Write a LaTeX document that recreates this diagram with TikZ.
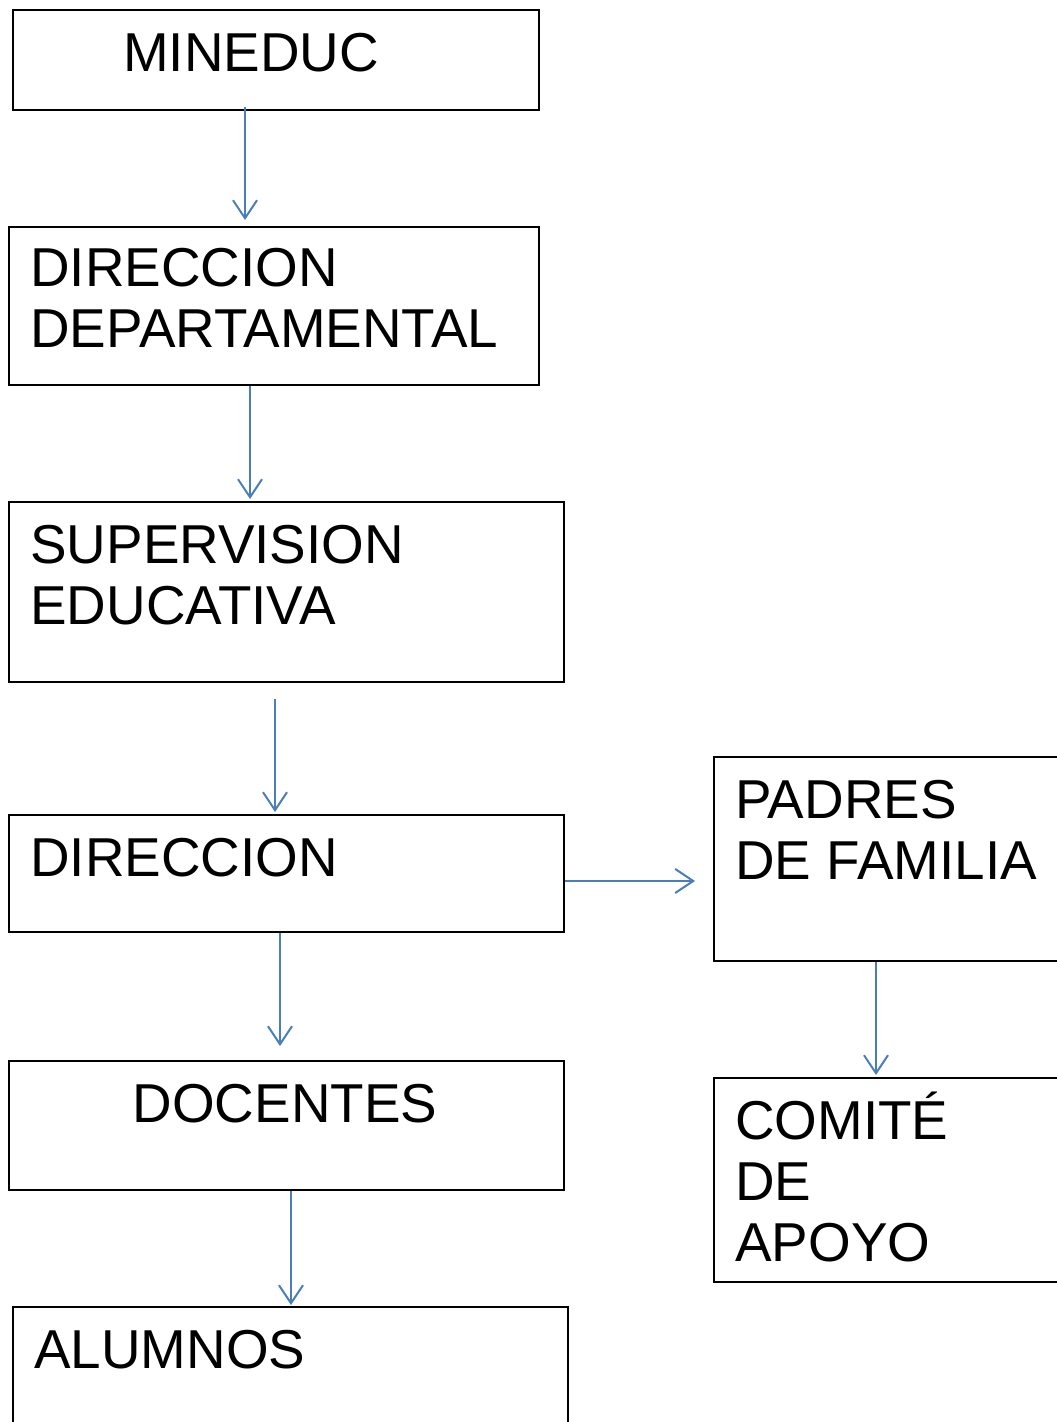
\documentclass[tikz,border=0pt]{standalone}
\usepackage{fontspec}
\setmainfont{Liberation Sans}
\usetikzlibrary{arrows.meta,positioning}

\definecolor{azul}{HTML}{4A7EBB}

\tikzset{
  caja/.style = {draw, line width=1pt, anchor=north west, inner sep=0pt},
  texto/.style = {inner sep=0pt, align=left, font=\fontsize{27.4}{30.5}\selectfont},
  flecha/.style = {draw=azul, line width=1pt, -{Straight Barb[length=9pt,width=12pt,line width=1pt]}}
}

\begin{document}
\begin{tikzpicture}[x=0.5pt, y=-0.5pt]
\useasboundingbox (0,0) rectangle (1056,1422);
% cajas
\node[caja, minimum width=263pt, minimum height=50pt]   (mineduc) at (12,9) {};
\node[caja, minimum width=265pt, minimum height=79pt]   (dirdep)  at (8,226) {};
\node[caja, minimum width=277.5pt, minimum height=90pt] (superv)  at (8,501) {};
\node[caja, minimum width=277.5pt, minimum height=58.5pt] (direc) at (8,814) {};
\node[caja, minimum width=277.5pt, minimum height=64.5pt] (docent) at (8,1060) {};
\node[caja, minimum width=277.5pt, minimum height=70pt] (alumn)   at (12,1306) {};
\node[caja, minimum width=180pt, minimum height=102pt]  (padres)  at (713,756) {};
\node[caja, minimum width=180pt, minimum height=102pt]  (comite)  at (713,1077) {};
% textos (base = ultima linea)
\node[texto, anchor=base]      (tmineduc) at (251,72)   {MINEDUC};
\node[texto, anchor=base west] (tdirdep)  at (30,348)   {DIRECCION\\DEPARTAMENTAL};
\node[texto, anchor=base west] (tsuperv)  at (30,624)   {SUPERVISION\\EDUCATIVA};
\node[texto, anchor=base west] (tdirec)   at (30,876)   {DIRECCION};
\node[texto, anchor=base]      (tdocent)  at (285,1122) {DOCENTES};
\node[texto, anchor=base west] (talumn)   at (34,1368)  {ALUMNOS};
\node[texto, anchor=base west] (tpadres)  at (735,879)  {PADRES\\DE FAMILIA};
\node[texto, anchor=base west] (tcomite)  at (735,1261) {COMITÉ\\DE\\APOYO};
% flechas
\draw[flecha, shorten <=-2pt, shorten >=3pt] (245,0 |- mineduc.south) -- (245,0 |- dirdep.north);
\draw[flecha, shorten >=1pt]                 (250,0 |- dirdep.south)  -- (250,0 |- superv.north);
\draw[flecha, shorten <=8pt, shorten >=1pt]  (275,0 |- superv.south)  -- (275,0 |- direc.north);
\draw[flecha, shorten >=7pt]                 (280,0 |- direc.south)   -- (280,0 |- docent.north);
\draw[flecha, shorten >=0.5pt]               (291,0 |- docent.south)  -- (291,0 |- alumn.north);
\draw[flecha, shorten >=9pt]                 (direc.east |- 0,881)    -- (padres.west |- 0,881);
\draw[flecha, shorten >=1pt]                 (876,0 |- padres.south)  -- (876,0 |- comite.north);
\end{tikzpicture}
\end{document}
